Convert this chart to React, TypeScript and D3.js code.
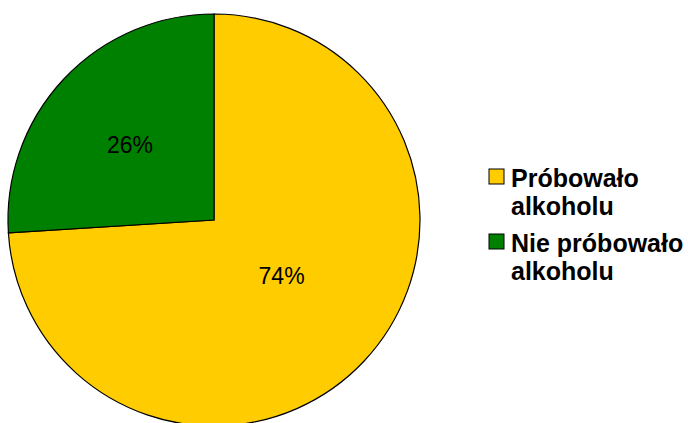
import React from "react";
import * as d3 from "d3";

const categories = ["Próbowało alkoholu", "Nie próbowało alkoholu"];
const legendLines = [["Próbowało", "alkoholu"], ["Nie próbowało", "alkoholu"]];
const values = [74, 26];
const colors = ["#FFCC00", "#008000"];

export default function App() {
  const width = 688;
  const height = 423;
  const cx = 214;
  const cy = 220;
  const r = 206;
  const pie = d3.pie<number>().sort(null).value((d) => d);
  const arcs = pie(values);
  const arc = d3.arc<d3.PieArcDatum<number>>().innerRadius(0).outerRadius(r);
  const labelFactors = [0.45, 0.56];
  const labelShift = [-7, 4];
  const total = d3.sum(values);

  return (
    <svg
      width={width}
      height={height}
      style={{ position: "absolute", left: 0, top: 0, background: "#fff" }}
      fontFamily="'Liberation Sans', Arial, sans-serif"
    >
      <g transform={`translate(${cx},${cy})`}>
        {arcs.map((a, i) => (
          <path key={i} d={arc(a) || ""} fill={colors[i]} stroke="#000" strokeWidth={1.2} />
        ))}
        {arcs.map((a, i) => {
          const mid = (a.startAngle + a.endAngle) / 2;
          const lr = r * labelFactors[i];
          const x = lr * Math.sin(mid);
          const y = -lr * Math.cos(mid);
          return (
            <text
              key={"l" + i}
              x={x}
              y={y}
              dy={labelShift[i]}
              textAnchor="middle"
              dominantBaseline="central"
              fontSize={23}
              fill="#000"
            >
              {Math.round((values[i] / total) * 100)}%
            </text>
          );
        })}
      </g>
      {categories.map((c, i) => {
        const top = 169 + i * 65;
        return (
          <g key={"lg" + i}>
            <rect x={489} y={top} width={15} height={15} fill={colors[i]} stroke="#000" strokeWidth={1} />
            {legendLines[i].map((t, j) => (
              <text
                key={j}
                x={511}
                y={top + 18 + j * 28}
                fontSize={25}
                fontWeight="bold"
                fill="#000"
              >
                {t}
              </text>
            ))}
          </g>
        );
      })}
    </svg>
  );
}
